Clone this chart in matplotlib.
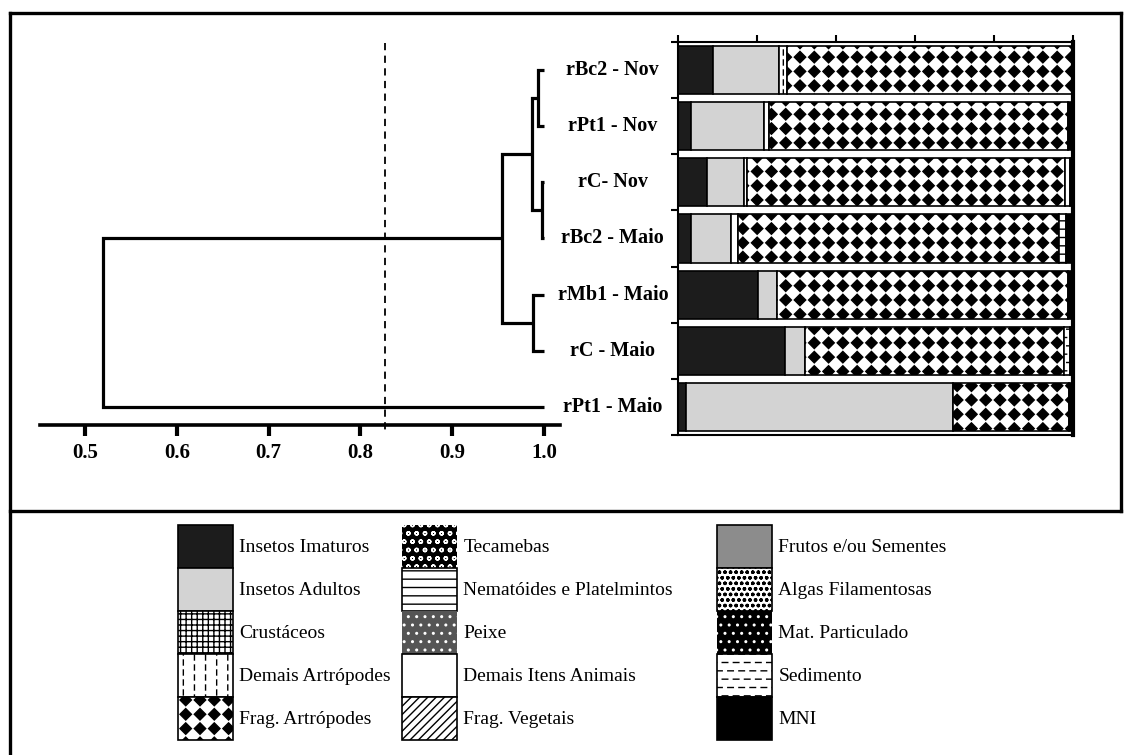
# -*- coding: utf-8 -*-
# Dendrograma de similaridade + composição da dieta (barras 100%) + legenda de itens

import numpy as np
import matplotlib
matplotlib.use("Agg")
import matplotlib.pyplot as plt
import matplotlib.patches as mpatches
import matplotlib.hatch as mhatch
from matplotlib.lines import Line2D
from matplotlib.path import Path

W, H = 1131, 755
SERIF = ["Liberation Serif", "DejaVu Serif"]
plt.rcParams.update({"font.family": SERIF, "hatch.linewidth": 1.0})

# ------------------------------------------------------------------ dados
amostras = ["rBc2 - Nov", "rPt1 - Nov", "rC- Nov", "rBc2 - Maio",
            "rMb1 - Maio", "rC - Maio", "rPt1 - Maio"]
# fusões do dendrograma: (nó a, nó b, similaridade); nós 7.. são os grupos formados
fusoes = [(0, 1, 0.993), (2, 3, 0.998), (7, 8, 0.987),
          (4, 5, 0.988), (9, 10, 0.954), (11, 6, 0.520)]
corte = 0.827
escala = [0.5, 0.6, 0.7, 0.8, 0.9, 1.0]

# porcentagem de cada item por amostra (mesma ordem de 'amostras')
imaturos = [8.8, 3.2, 7.3, 3.2, 20.3, 27.1, 2.0]
adultos = [16.8, 18.6, 9.4, 10.2, 4.7, 5.1, 67.6]
demais_artropodes = [2.0, 1.2, 0.8, 1.8, 0.0, 0.0, 0.0]
frag_artropodes = [72.4, 75.7, 80.5, 81.3, 73.7, 65.5, 29.4]
nematoides = [0.0, 0.0, 0.0, 1.8, 0.0, 0.0, 0.0]
demais_animais = [0.0, 0.0, 1.3, 0.0, 0.0, 0.0, 0.0]
sedimento = [0.0, 0.0, 0.0, 0.0, 0.0, 1.5, 0.0]
mni = [0.0, 1.3, 0.7, 1.7, 1.3, 0.8, 1.0]

itens_leg = [["Insetos Imaturos", "Insetos Adultos", "Crustáceos",
              "Demais Artrópodes", "Frag. Artrópodes"],
             ["Tecamebas", "Nematóides e Platelmintos", "Peixe",
              "Demais Itens Animais", "Frag. Vegetais"],
             ["Frutos e/ou Sementes", "Algas Filamentosas", "Mat. Particulado",
              "Sedimento", "MNI"]]


# ------------------------------------------------------------------ hachuras próprias
# '*' -> losangos pretos em grade, 'O' -> traços verticais, '\' -> traços horizontais
class Losangos(mhatch.HatchPatternBase):
    def __init__(self, hatch, density):
        self.n = hatch.count("*") * 7
        self.num_vertices = (self.n + 1) ** 2 * 5 if self.n else 0

    def set_vertices_and_codes(self, vertices, codes):
        r = 0.40 / self.n
        k = 0
        for x in np.linspace(0, 1, self.n + 1):
            for y in np.linspace(0, 1, self.n + 1):
                vertices[k:k + 5] = [(x, y - r), (x + r, y), (x, y + r), (x - r, y), (x, y - r)]
                codes[k:k + 5] = [Path.MOVETO, Path.LINETO, Path.LINETO, Path.LINETO, Path.CLOSEPOLY]
                k += 5


class Tracos(mhatch.HatchPatternBase):
    char, vertical, nlin, nper = "O", True, 9, 10

    def __init__(self, hatch, density):
        c = hatch.count(self.char)
        self.a, self.b = self.nlin * c, self.nper * c
        self.num_vertices = self.a * self.b * 2

    def set_vertices_and_codes(self, vertices, codes):
        k = 0
        for i in range(self.a):
            p = (i + 0.5) / self.a
            off = 0.5 if i % 2 else 0.0
            for j in range(self.b):
                s0, s1 = (j + off) / self.b, (j + off + 0.5) / self.b
                seg = [(p, s0), (p, s1)] if self.vertical else [(s0, p), (s1, p)]
                vertices[k:k + 2] = seg
                codes[k:k + 2] = [Path.MOVETO, Path.LINETO]
                k += 2


class TracosH(Tracos):
    char, vertical, nlin, nper = "\\", False, 12, 9


troca = {mhatch.Stars: Losangos, mhatch.LargeCircles: Tracos, mhatch.SouthEastHatch: TracosH}
mhatch._hatch_types = [troca.get(t, t) for t in mhatch._hatch_types]

ESCURO = "#1c1c1c"; CLARO = "#d3d3d3"


def estilo(fc, hatch=None, hc="black"):
    # hachura branca: a cor da hachura vem da cor da borda, então a borda some
    if hc == "white":
        return dict(facecolor=fc, edgecolor="white", hatch=hatch, linewidth=0)
    return dict(facecolor=fc, edgecolor="black", hatch=hatch, linewidth=1.2)


estilos = {
    "Insetos Imaturos": estilo(ESCURO),
    "Insetos Adultos": estilo(CLARO),
    "Crustáceos": estilo("white", "+++"),
    "Demais Artrópodes": estilo("white", "O"),
    "Frag. Artrópodes": estilo("white", "*"),
    "Tecamebas": estilo("black", "oo", "white"),
    "Nematóides e Platelmintos": estilo("white", "--"),
    "Peixe": estilo("#555555", "..", "white"),
    "Demais Itens Animais": estilo("white"),
    "Frag. Vegetais": estilo("white", "////"),
    "Frutos e/ou Sementes": estilo("#8c8c8c"),
    "Algas Filamentosas": estilo("white", "ooo"),
    "Mat. Particulado": estilo("black", "..", "white"),
    "Sedimento": estilo("white", "\\"),
    "MNI": estilo("black"),
}

fig = plt.figure(figsize=(W / 100, H / 100), dpi=100)

# ------------------------------------------------------------------ dendrograma
axd = fig.add_axes([40 / W, 1 - 425 / H, 520 / W, 383 / H])
pos = {i: (1.0, i + 0.5) for i in range(len(amostras))}
for k, (a, b, h) in enumerate(fusoes):
    xa, ya = pos[a]; xb, yb = pos[b]
    axd.plot([xa, h, h, xb], [ya, ya, yb, yb], color="black", lw=2.3,
             solid_capstyle="butt", solid_joinstyle="miter")
    pos[len(amostras) + k] = (h, (ya + yb) / 2)
for i, nome in enumerate(amostras):
    axd.text(1.075, i + 0.5, nome, ha="center", va="center", fontsize=14.5,
             fontweight="bold", clip_on=False)
axd.plot([corte, corte], [0.02, 6.96], color="black", lw=1.3, dashes=(4, 3), clip_on=False)
axd.set_xlim(0.45098, 1.01743)
axd.set_ylim(383 / 56.14, 0)
for s in ("top", "right", "left"):
    axd.spines[s].set_visible(False)
axd.spines["bottom"].set_linewidth(2.6)
axd.set_yticks([])
axd.set_xticks(escala)
axd.set_xticklabels([f"{v:.1f}" for v in escala], fontsize=15, fontweight="bold")
axd.tick_params(axis="x", direction="out", length=8, width=3, pad=5)

# ------------------------------------------------------------------ barras empilhadas (100%)
axb = fig.add_axes([678 / W, 1 - 435 / H, 395 / W, 393 / H])
series = [("Insetos Imaturos", imaturos), ("Insetos Adultos", adultos),
          ("Demais Artrópodes", demais_artropodes), ("Frag. Artrópodes", frag_artropodes),
          ("Nematóides e Platelmintos", nematoides), ("Demais Itens Animais", demais_animais),
          ("Sedimento", sedimento), ("MNI", mni)]
ypos = np.arange(len(amostras)) + 0.5
base = np.zeros(len(amostras))
for nome, vals in series:
    vals = np.array(vals)
    m = vals > 0
    axb.barh(ypos[m], vals[m], left=base[m], height=0.86, **estilos[nome])
    base += vals
axb.set_xlim(0, 100)
axb.set_ylim(len(amostras), 0)
axb.set_xticks(np.arange(0, 101, 20))
axb.set_yticks(np.arange(0, len(amostras) + 1))
axb.xaxis.tick_top()
axb.tick_params(labeltop=False, labelleft=False, length=5, width=1.5)
for s in ("top", "bottom", "left"):
    axb.spines[s].set_linewidth(1.5)
axb.spines["right"].set_linewidth(3)

# ------------------------------------------------------------------ legenda (3 colunas)
col_x = [178, 402, 717]
for cx, nomes in zip(col_x, itens_leg):
    handles = [mpatches.Patch(**estilos[n]) for n in nomes]
    fig.legend(handles, nomes, loc="upper left", bbox_to_anchor=(cx / W, 1 - 525 / H),
               frameon=False, borderpad=0, borderaxespad=0, labelspacing=0,
               handlelength=2.85, handleheight=3.02, handletextpad=0.3,
               prop={"family": SERIF, "size": 14})

# ------------------------------------------------------------------ moldura
lk = dict(color="black", lw=2.4, transform=fig.transFigure)
fig.add_artist(Line2D([10 / W, 10 / W], [0, 1 - 13 / H], **lk))
fig.add_artist(Line2D([10 / W, 1121 / W], [1 - 13 / H, 1 - 13 / H], **lk))
fig.add_artist(Line2D([1121 / W, 1121 / W], [1 - 13 / H, 1 - 511 / H], **lk))
fig.add_artist(Line2D([10 / W, 1121 / W], [1 - 511 / H, 1 - 511 / H], **lk))

fig.savefig("out.png", dpi=100)
